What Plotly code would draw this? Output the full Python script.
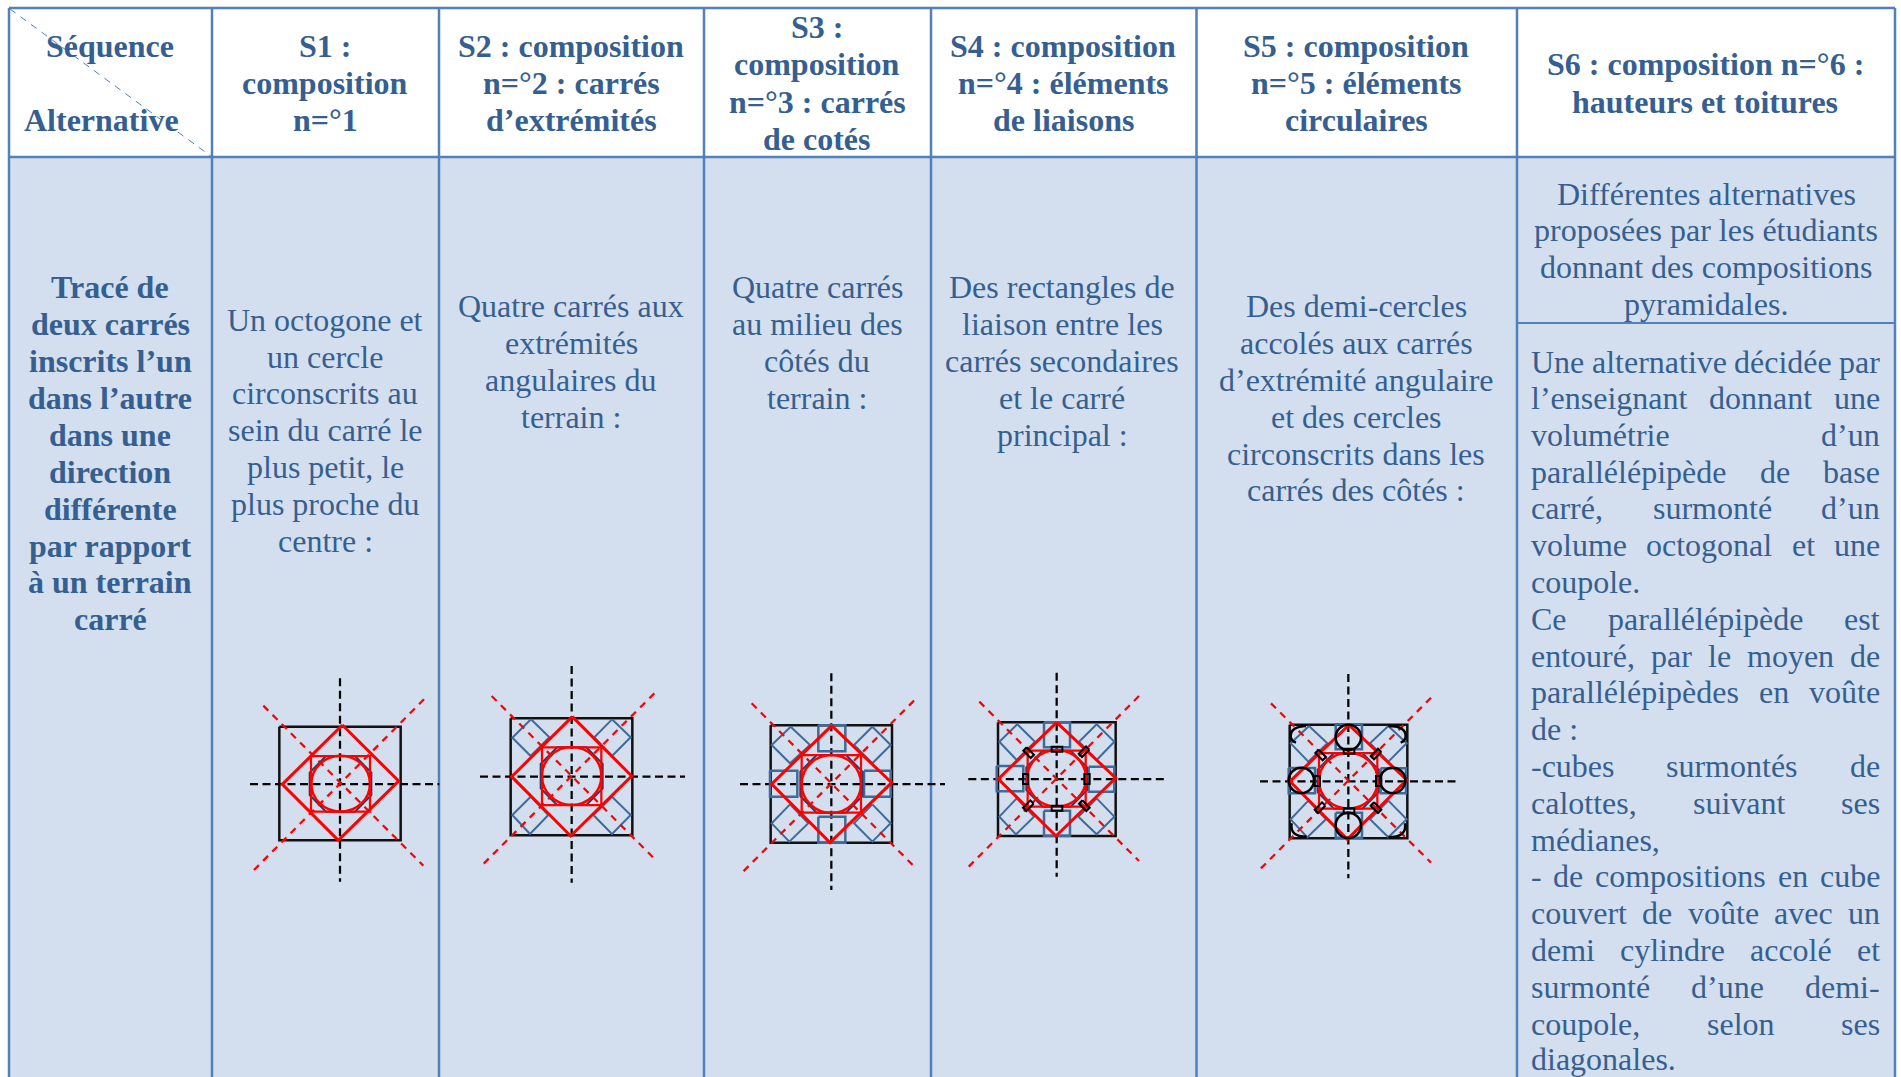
import plotly.graph_objects as go

# ---------- table structure (pixels of the 1901x1077 page) ----------
COL_EDGES = [9, 212, 439, 704, 931, 1196.5, 1517, 1895]
ROW_TOP, ROW_HEAD, ROW_SPLIT, ROW_END = 8, 157, 323, 1085
BLUE_LINE, CELL_FILL, TEXT_BLUE = "#4F81BD", "#D3DFEE", "#365F91"
DIAGRAM_BLUE, OCT_BLUE = "#3F6A9A", "#1F3F6E"
FONT = "Liberation Serif"
FS = 32

# ---------- texts: (line, y) ----------
HEADERS = [
    (110, ["Séquence"], [46]),
    (101, ["Alternative"], [120]),
    (325, ["S1 :", "composition", "n=°1"], [46, 83, 120]),
    (571, ["S2 : composition", "n=°2 : carrés", "d’extrémités"], [46, 83, 120]),
    (817, ["S3 :", "composition", "n=°3 : carrés", "de cotés"], [27, 64, 102, 139]),
    (1063, ["S4 : composition", "n=°4 : éléments", "de liaisons"], [46, 83, 120]),
    (1356, ["S5 : composition", "n=°5 : éléments", "circulaires"], [46, 83, 120]),
    (1705, ["S6 : composition n=°6 :", "hauteurs et toitures"], [64, 102]),
]
ROW_LABEL = ["Tracé de", "deux carrés", "inscrits l’un", "dans l’autre", "dans une", "direction",
             "différente", "par rapport", "à un terrain", "carré"]
ROW_LABEL_Y = [287, 324, 361, 398, 435, 472, 509, 546, 582, 619]
BODY = [
    (325, ["Un octogone et", "un cercle", "circonscrits au", "sein du carré le", "plus petit, le",
           "plus proche du", "centre :"], [320, 357, 393, 430, 467, 504, 541]),
    (571, ["Quatre carrés aux", "extrémités", "angulaires du", "terrain :"], [306, 343, 380, 417]),
    (817, ["Quatre carrés", "au milieu des", "côtés du", "terrain :"], [287, 324, 361, 398]),
    (1062, ["Des rectangles de", "liaison entre les", "carrés secondaires", "et le carré", "principal :"],
     [287, 324, 361, 398, 435]),
    (1356, ["Des demi-cercles", "accolés aux carrés", "d’extrémité angulaire", "et des cercles",
            "circonscrits dans les", "carrés des côtés :"], [306, 343, 380, 417, 454, 490]),
    (1706, ["Différentes alternatives", "proposées par les étudiants", "donnant des compositions",
            "pyramidales."], [194, 230, 267, 304]),
]
JUST_LEFT, JUST_RIGHT = 1531, 1880
JUST_Y = [362, 398, 435, 472, 508, 545, 582, 619, 656, 692, 729, 766, 803, 840, 876, 913, 950, 987, 1024, 1058.5]
JUST_LINES = [
    ("Une alternative décidée par", 1), ("l’enseignant donnant une", 1), ("volumétrie d’un", 1),
    ("parallélépipède de base", 1), ("carré, surmonté d’un", 1), ("volume octogonal et une", 1),
    ("coupole.", 0), ("Ce parallélépipède est", 1), ("entouré, par le moyen de", 1),
    ("parallélépipèdes en voûte", 1), ("de :", 0), ("-cubes surmontés de", 1),
    ("calottes, suivant ses", 1), ("médianes,", 0), ("- de compositions en cube", 1),
    ("couvert de voûte avec un", 1), ("demi cylindre accolé et", 1), ("surmonté d’une demi-", 1),
    ("coupole, selon ses", 1), ("diagonales.", 0),
]
TIMES = dict(a=444, b=500, c=444, d=500, e=444, f=333, g=500, h=500, i=278, j=278, k=500, l=278, m=778,
             n=500, o=500, p=500, q=500, r=333, s=389, t=278, u=500, v=500, w=722, x=500, y=500, z=444)
TIMES.update({",": 250, ".": 250, "-": 333, ":": 278, "’": 333, "é": 444, "è": 444, "û": 500, "C": 667, "U": 722})

# ---------- the six diagrams, in 3x crop units from an origin ----------
DIAGRAMS = [
    dict(o=(230, 660), v=(330, 55, 665), h=(372, 60, 628), sq=(148, 512, 200, 541),
         dia=[(337, 195), (506, 363), (325, 541), (157, 373)], rsq=(243, 420, 288, 455),
         c=(332, 371, 88, 84), d1=[(100, 137), (580, 617)], d2=[(582, 118), (60, 642)]),
    dict(o=(465, 650), v=(320, 48, 698), h=(380, 45, 660), sq=(137, 502, 205, 556),
         dia=[(322, 200), (500, 378), (317, 558), (140, 380)], rsq=(231, 409, 292, 465),
         c=(320, 378, 89, 87), d1=[(80, 138), (572, 630)], d2=[(568, 130), (45, 652)],
         corners=[[(198, 208), (253, 262), (197, 318), (142, 263)], [(441, 208), (497, 262), (441, 318), (388, 262)],
                  [(197, 440), (250, 495), (195, 552), (142, 495)], [(441, 440), (497, 495), (441, 552), (385, 495)]]),
    dict(o=(730, 660), v=(304, 40, 690), h=(372, 30, 645), sq=(122, 486, 196, 548),
         dia=[(305, 197), (485, 368), (300, 548), (125, 372)], rsq=(215, 393, 285, 458),
         c=(304, 372, 89, 87), d1=[(65, 130), (555, 622)], d2=[(552, 122), (32, 642)],
         corners=[[(182, 200), (240, 255), (180, 310), (125, 255)], [(427, 200), (482, 255), (427, 310), (372, 255)],
                  [(180, 433), (235, 490), (178, 545), (125, 490)], [(427, 433), (482, 490), (427, 545), (372, 490)]],
         sides=[(265, 346, 196, 274), (120, 202, 332, 410), (402, 482, 332, 410), (265, 346, 470, 548)]),
    dict(o=(960, 660), v=(290, 38, 650), h=(357, 25, 618), sq=(114, 467, 187, 528),
         dia=[(290, 187), (467, 354), (288, 528), (115, 357)], rsq=(203, 377, 272, 440),
         c=(290, 355, 88, 85), d1=[(58, 125), (537, 603)], d2=[(537, 108), (26, 620)],
         corners=[[(172, 193), (225, 245), (170, 300), (118, 245)], [(410, 193), (463, 245), (410, 300), (357, 245)],
                  [(170, 415), (222, 470), (168, 523), (118, 470)], [(410, 415), (463, 470), (410, 523), (355, 470)]],
         sides=[(252, 330, 187, 262), (110, 190, 318, 394), (386, 463, 320, 395), (252, 330, 452, 527)],
         links=[(275, 307, 260, 275), (275, 307, 437, 452), (189, 205, 342, 372), (373, 389, 342, 372)],
         rot=[[(206, 278), -1], [(372, 275), 1], [(205, 437), 1], [(373, 437), -1]]),
    dict(o=(1250, 660), v=(295, 42, 655), h=(364, 30, 622), sq=(119, 472, 194, 535),
         dia=[(297, 195), (470, 360), (292, 538), (120, 364)], rsq=(207, 382, 279, 446),
         c=(295, 362, 88, 84), d1=[(63, 130), (543, 608)], d2=[(543, 113), (30, 628)],
         corners=[[(177, 198), (232, 250), (175, 305), (122, 250)], [(415, 198), (470, 250), (415, 305), (360, 250)],
                  [(175, 422), (228, 478), (172, 532), (122, 478)], [(415, 422), (470, 478), (415, 532), (360, 478)]],
         sides=[(257, 336, 193, 268), (116, 195, 324, 400), (392, 468, 325, 400), (257, 336, 458, 533)],
         links=[(281, 313, 266, 281), (281, 313, 445, 460), (194, 210, 348, 378), (378, 394, 348, 378)],
         rot=[[(212, 285), -1], [(378, 282), 1], [(210, 443), 1], [(378, 443), -1]],
         rounds=[(295, 232, 38), (154, 361, 38), (428, 361, 38), (295, 496, 38)],
         arcs=[[(168, 198), (122, 200), (122, 228), (122, 242), (138, 248)],
               [(415, 198), (467, 198), (467, 228), (467, 242), (452, 248)],
               [(125, 490), (118, 530), (170, 530), (170, 530), (170, 530)],
               [(465, 490), (472, 532), (415, 532), (415, 532), (415, 532)]]),
]

fig = go.Figure()
shapes = []


def rect(x0, x1, y0, y1, color, width=0, fill=None, layer="below"):
    shapes.append(dict(type="rect", xref="x", yref="y", x0=x0, x1=x1, y0=y0, y1=y1, layer=layer,
                       line=dict(color=color, width=width), fillcolor=fill or "rgba(0,0,0,0)"))


def seg(x0, y0, x1, y1, color, width=1, dash="solid", layer="below"):
    shapes.append(dict(type="line", xref="x", yref="y", x0=x0, x1=x1, y0=y0, y1=y1, layer=layer,
                       line=dict(color=color, width=width, dash=dash)))


def poly(xs, ys, color, width, dash="solid"):
    fig.add_trace(go.Scatter(x=xs, y=ys, mode="lines", hoverinfo="skip", showlegend=False,
                             line=dict(color=color, width=width, dash=dash, simplify=False)))


# table
rect(COL_EDGES[0], COL_EDGES[-1], ROW_HEAD, ROW_END, CELL_FILL, 0, CELL_FILL)
for x in COL_EDGES:
    seg(x, ROW_TOP, x, ROW_END, BLUE_LINE, 2.5)
seg(COL_EDGES[0], ROW_TOP, COL_EDGES[-1], ROW_TOP, BLUE_LINE, 2.5)
seg(COL_EDGES[0], ROW_HEAD, COL_EDGES[-1], ROW_HEAD, BLUE_LINE, 2.5)
seg(COL_EDGES[-2], ROW_SPLIT, COL_EDGES[-1], ROW_SPLIT, BLUE_LINE, 2)
seg(COL_EDGES[0] + 1, ROW_TOP + 1, COL_EDGES[1], ROW_HEAD, BLUE_LINE, 1, "7px,6px", layer="above")


def text(x, y, s, bold=False, anchor="center"):
    fig.add_annotation(x=x, y=y, xref="x", yref="y", text=f"<b>{s}</b>" if bold else s, showarrow=False,
                       xanchor=anchor, yanchor="middle", borderpad=0, borderwidth=0,
                       align=anchor if anchor != "center" else "center",
                       font=dict(family=FONT, size=FS, color=TEXT_BLUE))


for cx, lines, ys in HEADERS:
    for s, y in zip(lines, ys):
        text(cx, y, s, bold=True)
for s, y in zip(ROW_LABEL, ROW_LABEL_Y):
    text(110, y, s, bold=True)
for cx, lines, ys in BODY:
    for s, y in zip(lines, ys):
        text(cx, y, s)


def word_width(w):
    return sum(TIMES[c] for c in w) * FS / 1000


for (s, justified), y in zip(JUST_LINES, JUST_Y):
    words = s.split(" ")
    if not justified or len(words) == 1:
        text(JUST_LEFT, y, s, anchor="left")
        continue
    gap = (JUST_RIGHT - JUST_LEFT - sum(word_width(w) for w in words)) / (len(words) - 1)
    x = JUST_LEFT
    for i, w in enumerate(words):
        if i == len(words) - 1:
            text(JUST_RIGHT, y, w, anchor="right")
        else:
            text(x, y, w, anchor="left")
        x += word_width(w) + gap

# diagrams
for d in DIAGRAMS:
    ox, oy = d["o"]
    X = lambda v: ox + v / 3
    Y = lambda v: oy + v / 3

    def box(b):
        return [X(b[0]), X(b[1]), X(b[1]), X(b[0]), X(b[0])], [Y(b[2]), Y(b[2]), Y(b[3]), Y(b[3]), Y(b[2])]

    vx, v0, v1 = d["v"]
    hy, h0, h1 = d["h"]
    poly([X(vx), X(vx)], [Y(v0), Y(v1)], "#000000", 2.25, "8px,4.5px")
    poly([X(h0), X(h1)], [Y(hy), Y(hy)], "#000000", 2.25, "8px,4.5px")
    xs, ys = box(d["sq"])
    poly(xs, ys, "#111111", 2.5)
    for c in d.get("corners", []):
        pts = c + c[:1]
        poly([X(p[0]) for p in pts], [Y(p[1]) for p in pts], DIAGRAM_BLUE, 2)
    for b in d.get("sides", []):
        xs, ys = box(b)
        poly(xs, ys, DIAGRAM_BLUE, 2.5)
    # dark octagon under the red circle
    l, r, t, b = d["rsq"]
    poly([X(l + 45), X(r - 45), X(r + 4), X(r + 4), X(r - 45), X(l + 45), X(l - 4), X(l - 4), X(l + 45)],
         [Y(t), Y(t), Y(t + 50), Y(b - 50), Y(b), Y(b), Y(b - 50), Y(t + 50), Y(t)], OCT_BLUE, 2)
    for k in ("d1", "d2"):
        p = d[k]
        poly([X(p[0][0]), X(p[1][0])], [Y(p[0][1]), Y(p[1][1])], "#FF0000", 2.25, "7px,6px")
    xs, ys = box(d["rsq"])
    poly(xs, ys, "#FF0000", 2.25)
    pts = d["dia"] + d["dia"][:1]
    poly([X(p[0]) for p in pts], [Y(p[1]) for p in pts], "#FF0000", 3)
    cx, cy, rx, ry = d["c"]
    shapes.append(dict(type="circle", xref="x", yref="y", x0=X(cx - rx), x1=X(cx + rx), y0=Y(cy - ry), y1=Y(cy + ry),
                       layer="above", line=dict(color="#FF0000", width=2.5)))
    for b in d.get("links", []):
        rect(X(b[0]), X(b[1]), Y(b[2]), Y(b[3]), "#000000", 2, layer="above")
    for (c, sgn) in d.get("rot", []):
        hl, hs = 11, 5
        a = [(c[0] + sgn * hl + hs, c[1] - hl + sgn * hs), (c[0] + sgn * hl - hs, c[1] - hl - sgn * hs),
             (c[0] - sgn * hl - hs, c[1] + hl - sgn * hs), (c[0] - sgn * hl + hs, c[1] + hl + sgn * hs)]
        a = a + a[:1]
        path = "M " + " L ".join(f"{X(p[0])},{Y(p[1])}" for p in a)
        shapes.append(dict(type="path", xref="x", yref="y", path=path, layer="above",
                           line=dict(color="#000000", width=2)))
    for c in d.get("rounds", []):
        shapes.append(dict(type="circle", xref="x", yref="y", x0=X(c[0] - c[2]), x1=X(c[0] + c[2]),
                           y0=Y(c[1] - c[2]), y1=Y(c[1] + c[2]), layer="above",
                           line=dict(color="#000000", width=2.5)))
    for a in d.get("arcs", []):
        path = (f"M {X(a[0][0])},{Y(a[0][1])} Q {X(a[1][0])},{Y(a[1][1])} {X(a[2][0])},{Y(a[2][1])} "
                f"Q {X(a[3][0])},{Y(a[3][1])} {X(a[4][0])},{Y(a[4][1])}")
        shapes.append(dict(type="path", xref="x", yref="y", path=path, layer="above",
                           line=dict(color="#000000", width=2.5)))

fig.update_layout(
    width=1901, height=1077, margin=dict(l=0, r=0, t=0, b=0), autosize=False,
    paper_bgcolor="white", plot_bgcolor="rgba(0,0,0,0)", showlegend=False, shapes=shapes,
    xaxis=dict(range=[0, 1901], visible=False, fixedrange=True),
    yaxis=dict(range=[1077, 0], visible=False, fixedrange=True),
)
fig.write_html("out.html", config=dict(displayModeBar=False),
               post_script="document.body.style.margin='0';document.body.style.overflow='hidden';")
